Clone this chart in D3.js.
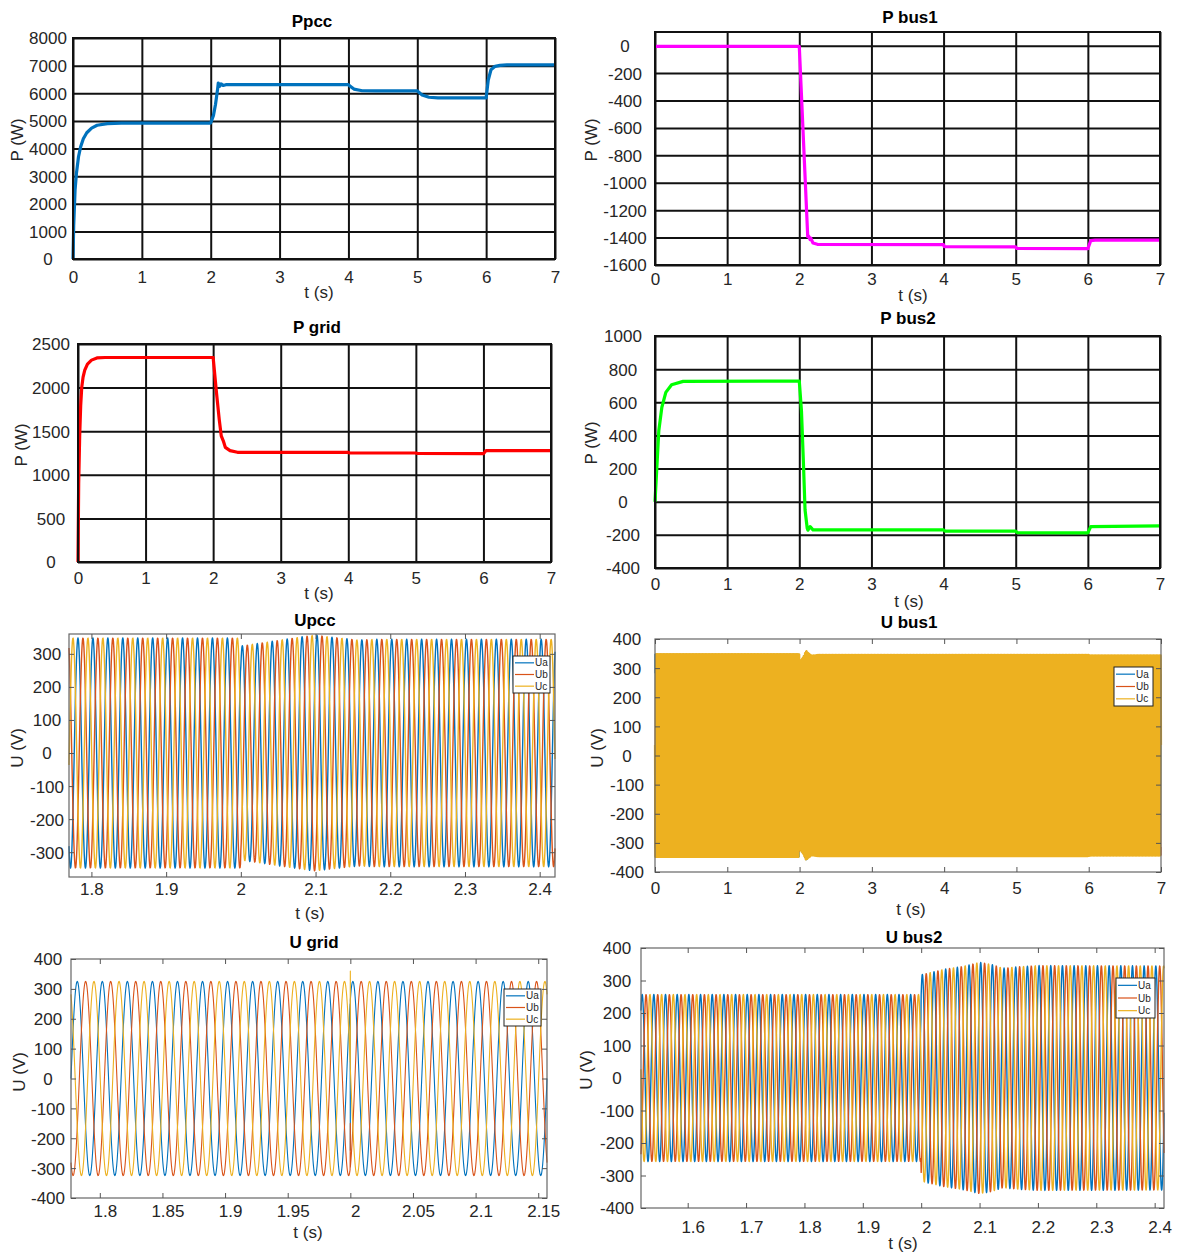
<!DOCTYPE html>
<html>
<head>
<meta charset="utf-8">
<script src="https://cdn.jsdelivr.net/npm/d3@7"></script>
<style>
body { margin: 0; background: #fff; }
svg text { font-family: Arial, "Liberation Sans", Helvetica, sans-serif; }
</style>
</head>
<body>
<svg id="fig" width="1179" height="1252"></svg>
<script>
// ---------------- data ----------------
var pTicksX = [0, 1, 2, 3, 4, 5, 6, 7];

// Ppcc (W)
var ppccT = [0, 0.01, 0.03, 0.05, 0.08, 0.11, 0.15, 0.2, 0.27, 0.35, 0.5, 0.7, 2.0, 2.04, 2.07, 2.1, 2.11, 2.13, 2.15, 2.18, 2.22, 4.0, 4.04, 4.08, 4.2, 4.4, 5.0, 5.04, 5.07, 5.17, 5.3, 6.0, 6.03, 6.07, 6.13, 6.2, 6.3, 7.0];
var ppccP = [0, 1200, 2500, 3100, 3700, 4050, 4350, 4570, 4740, 4840, 4900, 4915, 4920, 5200, 5600, 6150, 6370, 6250, 6340, 6280, 6310, 6310, 6230, 6150, 6090, 6085, 6085, 6000, 5940, 5855, 5830, 5830, 6470, 6850, 6975, 7010, 7025, 7025];
var ppccTicks = [0, 1000, 2000, 3000, 4000, 5000, 6000, 7000, 8000];

// P bus1 (W)
var pbus1T = [0, 2.0, 2.117, 2.13, 2.15, 2.16, 2.19, 2.25, 4.0, 4.01, 5.0, 5.01, 6.0, 6.04, 6.1, 7.0];
var pbus1P = [-5, -5, -1393, -1390, -1415, -1405, -1440, -1449, -1452, -1466, -1468, -1479, -1481, -1422, -1418, -1418];
var pbus1Ticks = [0, -200, -400, -600, -800, -1000, -1200, -1400, -1600];

// P grid (W)
var pgridT = [0, 0.01, 0.025, 0.04, 0.055, 0.075, 0.1, 0.14, 0.2, 0.28, 0.4, 2.0, 2.05, 2.09, 2.12, 2.15, 2.18, 2.25, 2.36, 4.0, 4.02, 5.0, 5.02, 6.0, 6.04, 7.0];
var pgridP = [0, 900, 1450, 1800, 2000, 2120, 2200, 2270, 2315, 2340, 2345, 2345, 1936, 1636, 1447, 1390, 1315, 1277, 1258, 1258, 1250, 1250, 1244, 1242, 1278, 1278];
var pgridTicks = [0, 500, 1000, 1500, 2000, 2500];

// P bus2 (W)
var pbus2T = [0, 0.026, 0.053, 0.095, 0.15, 0.23, 0.39, 2.0, 2.03, 2.056, 2.08, 2.11, 2.12, 2.15, 2.19, 4.0, 4.02, 5.0, 5.02, 6.0, 6.04, 7.0];
var pbus2P = [0, 210, 430, 570, 660, 706, 726, 728, 550, 250, -50, -160, -172, -150, -170, -170, -177, -178, -186, -188, -150, -146];
var pbus2Ticks = [-400, -200, 0, 200, 400, 600, 800, 1000];

// three-phase voltages: 50 Hz, amplitude envelopes (V)
var gridFreq = 50;
var phaseNames = ["Ua", "Ub", "Uc"];
var phaseColors = ["#0072BD", "#D95319", "#EDB120"];
var phaseShiftDeg = [54, -66, 174];

var upccEnvT = [1.77, 1.9995, 2.0, 2.03, 2.056, 2.08, 2.1, 2.116, 2.157, 2.18, 2.4205];
var upccEnvA = [348, 348, 324, 334, 343, 351, 357, 352, 342, 344, 344];
var upccTicksX = [1.8, 1.9, 2.0, 2.1, 2.2, 2.3, 2.4];
var upccTicksY = [-300, -200, -100, 0, 100, 200, 300];

var ubus1EnvT = [0, 1.995, 2.0, 2.05, 2.09, 2.12, 2.17, 2.25, 6.0, 6.02, 7.0];
var ubus1EnvA = [349, 349, 322, 338, 360, 352, 343, 346, 346, 344, 344];
var ubus1TicksY = [-400, -300, -200, -100, 0, 100, 200, 300, 400];

var ugridEnvT = [1.77, 2.16];
var ugridEnvA = [325, 325];
var ugridSpikeT = 2.0;
var ugridSpikeV = [-240, -150, 360];
var ugridTicksX = [1.8, 1.85, 1.9, 1.95, 2.0, 2.05, 2.1, 2.15];
var uTicksY = [-400, -300, -200, -100, 0, 100, 200, 300, 400];

var ubus2EnvT = [1.52, 1.9995, 2.0, 2.04, 2.07, 2.1, 2.12, 2.14, 2.17, 2.2, 2.416];
var ubus2EnvA = [257, 257, 318, 335, 343, 356, 350, 338, 343, 346, 345];
var ubus2TicksX = [1.6, 1.7, 1.8, 1.9, 2.0, 2.1, 2.2, 2.3, 2.4];

// ---------------- helpers ----------------
var svg = d3.select("#fig");
var defs = svg.append("defs");
var fmtX = function(d) { return d3.format("~g")(d).replace("\u2212", "-"); };
var fmtY = function(d) { return String(d); };

function pts(ts, vs) {
  return ts.map(function(t, i) { return [t, vs[i]]; });
}

// sample a three-phase set following an amplitude envelope
function threePhase(xd, dt, envT, envA, spikeT, spikeV) {
  var amp = d3.scaleLinear().domain(envT).range(envA).clamp(true);
  var n = Math.round((xd[1] - xd[0]) / dt);
  return phaseShiftDeg.map(function(ph, k) {
    var out = [];
    for (var i = 0; i <= n; i++) {
      var t = xd[0] + i * dt;
      out.push([t, amp(t) * Math.sin(2 * Math.PI * gridFreq * t + ph * Math.PI / 180)]);
      if (spikeT != null && t < spikeT && t + dt >= spikeT) {
        out.push([spikeT, spikeV[k]]);
      }
    }
    return {name: phaseNames[k], color: phaseColors[k], points: out};
  });
}

function styleText(sel, size) {
  return sel.attr("font-family", "Arial, 'Liberation Sans', Helvetica, sans-serif")
     .attr("font-size", size).attr("fill", "#262626");
}

function drawPanel(p) {
  var x0 = p.box[0], y0 = p.box[1], w = p.box[2] - p.box[0], h = p.box[3] - p.box[1];
  var x = d3.scaleLinear().domain(p.xDomain).range([0, w]);
  var y = d3.scaleLinear().domain(p.yDomain).range([h, 0]);
  var g = svg.append("g").attr("transform", "translate(" + x0 + "," + y0 + ")");

  defs.append("clipPath").attr("id", "clip-" + p.id)
    .append("rect").attr("x", -2).attr("y", -2).attr("width", w + 4).attr("height", h + 4);

  if (p.grid) {
    g.append("g").attr("transform", "translate(0," + h + ")")
      .call(d3.axisBottom(x).tickValues(p.xTicks).tickSize(-h).tickFormat(""))
      .call(function(s) { s.select(".domain").remove(); })
      .selectAll("line").attr("stroke", "#111").attr("stroke-width", 2);
    g.append("g")
      .call(d3.axisLeft(y).tickValues(p.yTicks).tickSize(-w).tickFormat(""))
      .call(function(s) { s.select(".domain").remove(); })
      .selectAll("line").attr("stroke", "#111").attr("stroke-width", 2);
  }

  var line = d3.line().x(function(d) { return x(d[0]); }).y(function(d) { return y(d[1]); });
  var plot = g.append("g").attr("clip-path", "url(#clip-" + p.id + ")");
  p.series.forEach(function(s, i) {
    plot.append("path").datum(s.points)
      .attr("d", line)
      .attr("fill", "none")
      .attr("stroke", s.color)
      .attr("stroke-width", p.widths ? p.widths[i] : p.lineWidth)
      .attr("stroke-linejoin", "round");
  });

  g.append("rect").attr("width", w).attr("height", h).attr("fill", "none")
    .attr("stroke", p.grid ? "#111" : "#666").attr("stroke-width", p.grid ? 2 : 1.2);

  if (!p.grid) {
    var tickCol = "#555";
    [[d3.axisBottom(x).tickValues(p.xTicks), "translate(0," + h + ")"],
     [d3.axisTop(x).tickValues(p.xTicks), "translate(0,0)"],
     [d3.axisLeft(y).tickValues(p.yTicks), "translate(0,0)"],
     [d3.axisRight(y).tickValues(p.yTicks), "translate(" + w + ",0)"]].forEach(function(a) {
      g.append("g").attr("transform", a[1])
        .call(a[0].tickSizeInner(-5).tickSizeOuter(0).tickFormat(""))
        .call(function(s) { s.select(".domain").remove(); })
        .selectAll("line").attr("stroke", tickCol).attr("stroke-width", 1);
    });
  }

  // tick labels
  var xl = g.append("g").attr("transform", "translate(0," + h + ")")
    .call(d3.axisBottom(x).tickValues(p.xTicks).tickSize(0).tickFormat(fmtX));
  xl.select(".domain").remove();
  xl.attr("font-size", null).attr("font-family", null);
  styleText(xl.selectAll("text").attr("y", p.xTickLabY - p.box[3]).attr("dy", "0.35em")
    .attr("dx", p.xTickDx || 0), 17);

  var yl = g.append("g")
    .call(d3.axisLeft(y).tickValues(p.yTicks).tickSize(0).tickFormat(fmtY));
  yl.select(".domain").remove();
  yl.attr("font-size", null).attr("font-family", null);
  styleText(yl.selectAll("text").attr("x", p.yTickLabX - x0).attr("text-anchor", "middle")
    .attr("dy", "0.35em"), 17);

  // title and axis labels
  styleText(svg.append("text").attr("x", p.titlePos[0]).attr("y", p.titlePos[1])
    .attr("dy", "0.35em").attr("text-anchor", "middle").attr("font-weight", "bold")
    .text(p.title), 17).attr("fill", "#000");
  styleText(svg.append("text").attr("x", p.xLabPos[0]).attr("y", p.xLabPos[1])
    .attr("dy", "0.35em").attr("text-anchor", "middle").text("t (s)"), 17);
  styleText(svg.append("text")
    .attr("transform", "translate(" + p.yLabPos[0] + "," + p.yLabPos[1] + ") rotate(-90)")
    .attr("dy", "0.35em").attr("text-anchor", "middle").text(p.ylab), 17);

  if (p.legend) {
    var lb = p.legend;
    var lg = svg.append("g").attr("transform", "translate(" + lb[0] + "," + lb[1] + ")");
    lg.append("rect").attr("width", lb[2] - lb[0]).attr("height", lb[3] - lb[1])
      .attr("fill", "#fff").attr("stroke", "#222").attr("stroke-width", 1);
    var rowH = (lb[3] - lb[1] - 2) / 3;
    p.series.forEach(function(s, i) {
      var yy = 1 + rowH * (i + 0.5);
      lg.append("line").attr("x1", 2).attr("x2", 21).attr("y1", yy).attr("y2", yy)
        .attr("stroke", s.color).attr("stroke-width", 1.2);
      styleText(lg.append("text").attr("x", 22).attr("y", yy).attr("dy", "0.35em")
        .text(s.name), 10);
    });
  }
}

// ---------------- panels ----------------
var panels = [
  {id: "ppcc", title: "Ppcc", ylab: "P (W)", grid: true, lineWidth: 3.2,
   box: [73, 38, 555, 259], xDomain: [0, 7], yDomain: [0, 8000],
   xTicks: pTicksX, yTicks: ppccTicks,
   titlePos: [312, 21], xLabPos: [319, 292], yLabPos: [17, 140], xTickLabY: 277, yTickLabX: 48,
   series: [{color: "#0072BD", points: pts(ppccT, ppccP)}]},
  {id: "pbus1", title: "P bus1", ylab: "P (W)", grid: true, lineWidth: 3.2,
   box: [655, 32, 1160, 265], xDomain: [0, 7], yDomain: [-1600, 100],
   xTicks: pTicksX, yTicks: pbus1Ticks,
   titlePos: [910, 17], xLabPos: [913, 295], yLabPos: [591, 140], xTickLabY: 279, yTickLabX: 625,
   series: [{color: "#FF00FF", points: pts(pbus1T, pbus1P)}]},
  {id: "pgrid", title: "P grid", ylab: "P (W)", grid: true, lineWidth: 3.2,
   box: [78, 344, 551, 562], xDomain: [0, 7], yDomain: [0, 2500],
   xTicks: pTicksX, yTicks: pgridTicks,
   titlePos: [317, 327], xLabPos: [319, 593], yLabPos: [21, 445], xTickLabY: 578, yTickLabX: 51,
   series: [{color: "#FF0000", points: pts(pgridT, pgridP)}]},
  {id: "pbus2", title: "P bus2", ylab: "P (W)", grid: true, lineWidth: 3.2,
   box: [655, 336, 1160, 568], xDomain: [0, 7], yDomain: [-400, 1000],
   xTicks: pTicksX, yTicks: pbus2Ticks,
   titlePos: [908, 318], xLabPos: [909, 601], yLabPos: [591, 443], xTickLabY: 584, yTickLabX: 623,
   series: [{color: "#00FF00", points: pts(pbus2T, pbus2P)}]},
  {id: "upcc", title: "Upcc", ylab: "U (V)", grid: false, lineWidth: 1.4,
   box: [69, 634, 555, 877], xDomain: [1.77, 2.4205], yDomain: [-375, 360],
   xTicks: upccTicksX, yTicks: upccTicksY,
   titlePos: [315, 620], xLabPos: [310, 913], yLabPos: [17, 748], xTickLabY: 889, yTickLabX: 47,
   legend: [513, 656, 550, 693],
   series: threePhase([1.77, 2.4205], 0.0005, upccEnvT, upccEnvA)},
  {id: "ubus1", title: "U bus1", ylab: "U (V)", grid: false, lineWidth: 1, widths: [1, 1, 2.2],
   box: [655, 639, 1161, 872], xDomain: [0, 7], yDomain: [-400, 400],
   xTicks: pTicksX, yTicks: ubus1TicksY,
   titlePos: [909, 622], xLabPos: [911, 909], yLabPos: [597, 748], xTickLabY: 888, yTickLabX: 627,
   legend: [1114, 667, 1153, 706],
   series: threePhase([0, 7], 0.0005, ubus1EnvT, ubus1EnvA)},
  {id: "ugrid", title: "U grid", ylab: "U (V)", grid: false, lineWidth: 1.1,
   box: [71, 959, 547, 1198], xDomain: [1.777, 2.157], yDomain: [-400, 400],
   xTicks: ugridTicksX, yTicks: uTicksY, xTickDx: 5,
   titlePos: [314, 942], xLabPos: [308, 1232], yLabPos: [19, 1072], xTickLabY: 1211, yTickLabX: 48,
   legend: [504, 989, 541, 1026],
   series: threePhase([1.777, 2.157], 0.0002, ugridEnvT, ugridEnvA, ugridSpikeT, ugridSpikeV)},
  {id: "ubus2", title: "U bus2", ylab: "U (V)", grid: false, lineWidth: 1.4,
   box: [641, 948, 1164, 1208], xDomain: [1.52, 2.416], yDomain: [-400, 400],
   xTicks: ubus2TicksX, yTicks: uTicksY, xTickDx: 5,
   titlePos: [914, 937], xLabPos: [903, 1243], yLabPos: [586, 1070], xTickLabY: 1227, yTickLabX: 617,
   legend: [1116, 978, 1155, 1018],
   series: threePhase([1.52, 2.416], 0.0005, ubus2EnvT, ubus2EnvA)}
];

panels.forEach(drawPanel);
</script>
</body>
</html>
